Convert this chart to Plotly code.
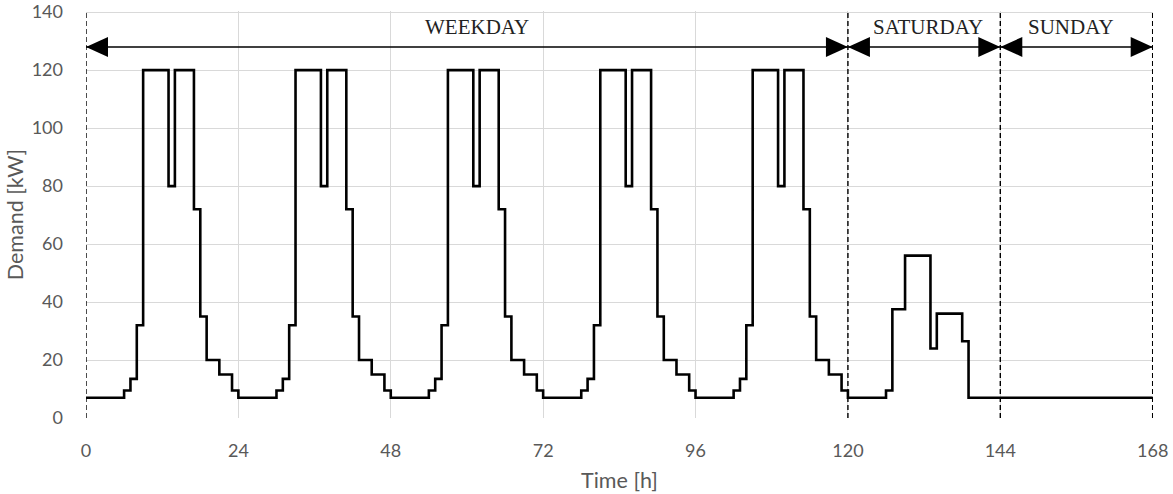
import plotly.graph_objects as go

# hourly demand [kW], one value per hour of the day
weekday_profile = [7, 7, 7, 7, 7, 7, 9.5, 13.5, 32, 120, 120, 120, 120, 80,
                   120, 120, 120, 72, 35, 20, 20, 15, 15, 9.5]
saturday_profile = [7, 7, 7, 7, 7, 7, 9.5, 37.5, 37.5, 56, 56, 56, 56, 24,
                    36, 36, 36, 36, 26.5, 7, 7, 7, 7, 7]
sunday_profile = [7] * 24

n_weekdays = 5
period_names = ["WEEKDAY", "SATURDAY", "SUNDAY"]
period_bounds = [0, 120, 144, 168]
label_pos = [61.6, 132.6, 155.2]  # hour where each label is centred

x_ticks = [0, 24, 48, 72, 96, 120, 144, 168]
y_ticks = [0, 20, 40, 60, 80, 100, 120, 140]

demand = weekday_profile * n_weekdays + saturday_profile + sunday_profile
demand = demand + [demand[-1]]  # close the last step at 168 h
hours = list(range(len(demand)))

fig = go.Figure()
fig.add_trace(
    go.Scatter(
        x=hours,
        y=demand,
        mode="lines",
        line=dict(color="black", width=2.6, shape="hv"),
        showlegend=False,
    )
)

arrow_y = 128
head_len, head_half = 22, 10
for b in period_bounds:
    fig.add_shape(type="line", x0=b, x1=b, y0=0, y1=140, xref="x", yref="y",
                  line=dict(color="black", width=1.4, dash="5px,3px"))

for i, name in enumerate(period_names):
    start, end = period_bounds[i], period_bounds[i + 1]
    fig.add_shape(type="line", x0=start, x1=end, y0=arrow_y, y1=arrow_y,
                  line=dict(color="black", width=1.6))
    # left pointing head at the start, right pointing head at the end
    fig.add_shape(type="path", xsizemode="pixel", ysizemode="pixel",
                  xanchor=start, yanchor=arrow_y,
                  path=f"M0,0 L{head_len},{head_half} L{head_len},-{head_half} Z",
                  fillcolor="black", line=dict(color="black", width=0))
    fig.add_shape(type="path", xsizemode="pixel", ysizemode="pixel",
                  xanchor=end, yanchor=arrow_y,
                  path=f"M0,0 L-{head_len},{head_half} L-{head_len},-{head_half} Z",
                  fillcolor="black", line=dict(color="black", width=0))
    fig.add_annotation(x=label_pos[i], y=134.8, text=name, showarrow=False,
                       font=dict(family="Liberation Serif", size=21, color="#222222"))

tick_font = dict(family="Lato", size=18, color="#595959")
title_font = dict(family="Lato", size=21.5, color="#595959")
fig.update_layout(
    width=1173,
    height=494,
    margin=dict(l=86, r=20, t=11, b=76),
    plot_bgcolor="white",
    paper_bgcolor="white",
    font=tick_font,
    xaxis=dict(
        range=[0, 168.05],
        tickvals=x_ticks,
        showgrid=True,
        gridcolor="#d9d9d9",
        gridwidth=1,
        zeroline=False,
        showline=False,
        automargin=False,
        ticks="",
        ticklabelstandoff=20,
        ticklabeloverflow="allow",
        tickfont=tick_font,
        title=dict(text="Time [h]", font=title_font, standoff=12),
    ),
    yaxis=dict(
        range=[0, 140.4],
        tickvals=y_ticks,
        showgrid=True,
        gridcolor="#d9d9d9",
        gridwidth=1,
        zeroline=False,
        showline=False,
        automargin=False,
        ticks="",
        ticklabelstandoff=22,
        ticklabeloverflow="allow",
        tickfont=tick_font,
        title=dict(text="Demand [kW]", font=title_font, standoff=2),
    ),
)

# the page's default body margin would shift the figure by 8px
fig.write_html("out.html", config={"displayModeBar": False},
               post_script="document.body.style.margin = '0';")
